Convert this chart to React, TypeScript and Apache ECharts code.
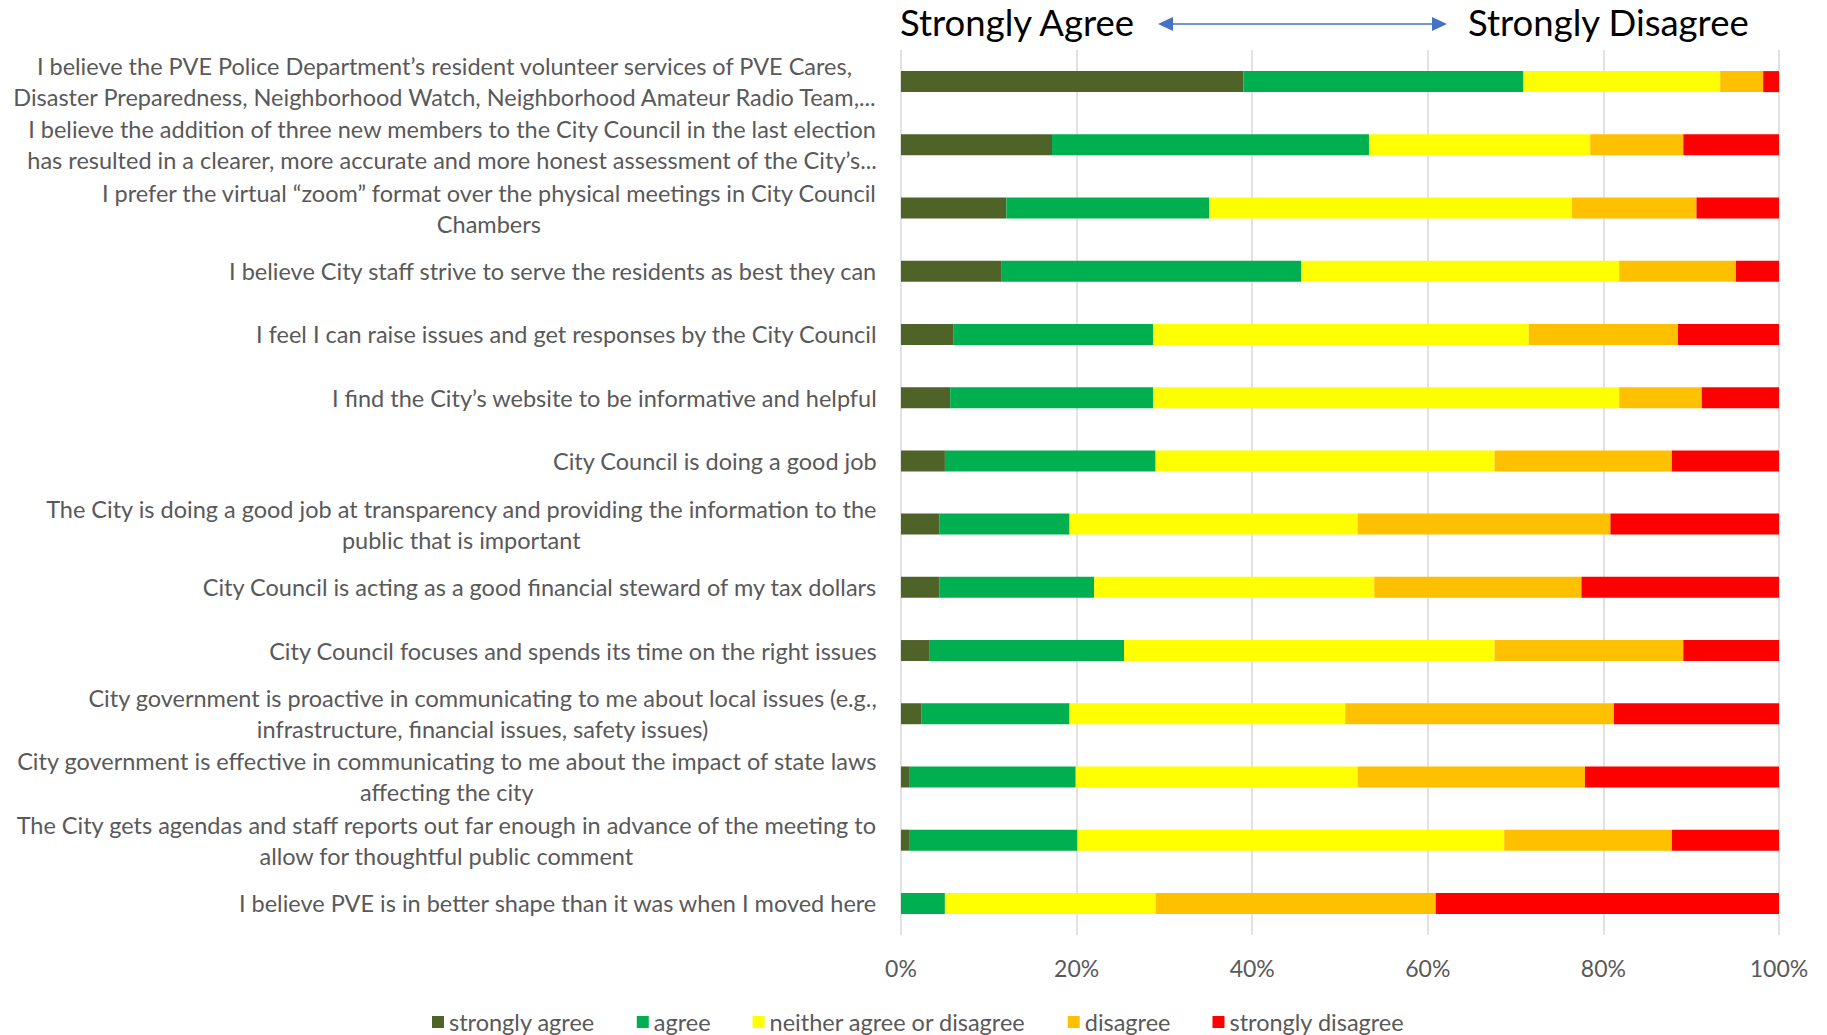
import React, { useEffect, useRef } from "react";
import * as echarts from "echarts";

const categories = [
  "I believe the PVE Police Department’s resident volunteer services of PVE Cares,\nDisaster Preparedness, Neighborhood Watch, Neighborhood Amateur Radio Team,...",
  "I believe the addition of three new members to the City Council in the last election\nhas resulted in a clearer, more accurate and more honest assessment of the City’s...",
  "I prefer the virtual “zoom” format over the physical meetings in City Council\nChambers",
  "I believe City staff strive to serve the residents as best they can",
  "I feel I can raise issues and get responses by the City Council",
  "I find the City’s website to be informative and helpful",
  "City Council is doing a good job",
  "The City is doing a good job at transparency and providing the information to the\npublic that is important",
  "City Council is acting as a good financial steward of my tax dollars",
  "City Council focuses and spends its time on the right issues",
  "City government is proactive in communicating to me about local issues (e.g.,\ninfrastructure, financial issues, safety issues)",
  "City government is effective in communicating to me about the impact of state laws\naffecting the city",
  "The City gets agendas and staff reports out far enough in advance of the meeting to\nallow for thoughtful public comment",
  "I believe PVE is in better shape than it was when I moved here",
];

const stronglyAgree = [39.0, 17.2, 12.0, 11.4, 6.0, 5.6, 5.0, 4.4, 4.4, 3.2, 2.3, 1.0, 1.0, 0];
const agree = [31.9, 36.1, 23.1, 34.2, 22.7, 23.1, 24.0, 14.8, 17.6, 22.2, 16.9, 18.9, 19.1, 5.0];
const neither = [22.4, 25.2, 41.3, 36.2, 42.8, 53.1, 38.6, 32.8, 31.9, 42.2, 31.4, 32.1, 48.6, 24.0];
const disagree = [4.9, 10.6, 14.2, 13.3, 17.0, 9.4, 20.2, 28.8, 23.6, 21.5, 30.6, 25.9, 19.1, 31.9];
const stronglyDisagree = [1.8, 10.9, 9.4, 4.9, 11.5, 8.8, 12.2, 19.2, 22.5, 10.9, 18.8, 22.1, 12.2, 39.1];

const seriesNames = ["strongly agree", "agree", "neither agree or disagree", "disagree", "strongly disagree"];
const seriesColors = ["#4F6228", "#00B050", "#FFFF00", "#FFC000", "#FF0000"];
const seriesData = [stronglyAgree, agree, neither, disagree, stronglyDisagree];

const headerLeft = "Strongly Agree";
const headerRight = "Strongly Disagree";

const FONT = "Lato, 'Open Sans', sans-serif";
const TEXT_COLOR = "#595959";
const LABEL_SIZE = 23.5;

export default function App() {
  const ref = useRef<HTMLDivElement>(null);

  useEffect(() => {
    if (!ref.current) return;
    const chart = echarts.init(ref.current, null, { renderer: "svg" });
    const arrowY = 24;
    const arrowX1 = 1158;
    const arrowX2 = 1447;
    const option: any = {
      animation: false,
      backgroundColor: "#ffffff",
      textStyle: { fontFamily: FONT },
      grid: { left: 901, right: 48, top: 50, height: 885, containLabel: false },
      xAxis: {
        type: "value",
        min: 0,
        max: 100,
        interval: 20,
        axisLine: { show: false },
        axisTick: { show: false },
        splitLine: { show: true, lineStyle: { color: "#D9D9D9", width: 1.5 } },
        axisLabel: {
          formatter: "{value}%",
          color: TEXT_COLOR,
          fontSize: 23,
          fontFamily: FONT,
          margin: 21,
        },
      },
      yAxis: {
        type: "category",
        inverse: true,
        data: categories,
        axisLine: { show: false },
        axisTick: { show: false },
        splitLine: { show: false },
        axisLabel: {
          margin: 24,
          color: TEXT_COLOR,
          fontSize: LABEL_SIZE,
          fontFamily: FONT,
          formatter: (v: string) =>
            v
              .split("\n")
              .map((l) => `{c|${l}}`)
              .join("\n"),
          rich: {
            c: {
              align: "center",
              color: TEXT_COLOR,
              fontSize: LABEL_SIZE,
              fontFamily: FONT,
              lineHeight: 31,
            },
          },
        },
      },
      legend: {
        data: seriesNames,
        left: 427,
        top: 1005,
        itemWidth: 12,
        itemHeight: 12,
        itemGap: 42,
        icon: "rect",
        textStyle: { color: TEXT_COLOR, fontSize: LABEL_SIZE, fontFamily: FONT },
      },
      series: seriesNames.map((name, i) => ({
        name,
        type: "bar",
        stack: "total",
        barWidth: 21,
        data: seriesData[i],
        itemStyle: { color: seriesColors[i] },
      })),
      graphic: [
        {
          type: "text",
          left: 900,
          top: arrowY - 21,
          style: { text: headerLeft, fontSize: 36.5, fontFamily: FONT, fill: "#000000" },
        },
        {
          type: "text",
          left: 1468,
          top: arrowY - 21,
          style: { text: headerRight, fontSize: 36.5, fontFamily: FONT, fill: "#000000" },
        },
        {
          type: "line",
          shape: { x1: arrowX1 + 12, y1: arrowY, x2: arrowX2 - 12, y2: arrowY },
          style: { stroke: "#4472C4", lineWidth: 1.5 },
        },
        {
          type: "polygon",
          shape: { points: [[arrowX1, arrowY], [arrowX1 + 15, arrowY - 7], [arrowX1 + 15, arrowY + 7]] },
          style: { fill: "#4472C4" },
        },
        {
          type: "polygon",
          shape: { points: [[arrowX2, arrowY], [arrowX2 - 15, arrowY - 7], [arrowX2 - 15, arrowY + 7]] },
          style: { fill: "#4472C4" },
        },
      ],
    };
    chart.setOption(option);
    return () => chart.dispose();
  }, []);

  return (
    <div
      ref={ref}
      style={{ position: "fixed", left: 0, top: 0, width: 1827, height: 1035, background: "#fff" }}
    />
  );
}
